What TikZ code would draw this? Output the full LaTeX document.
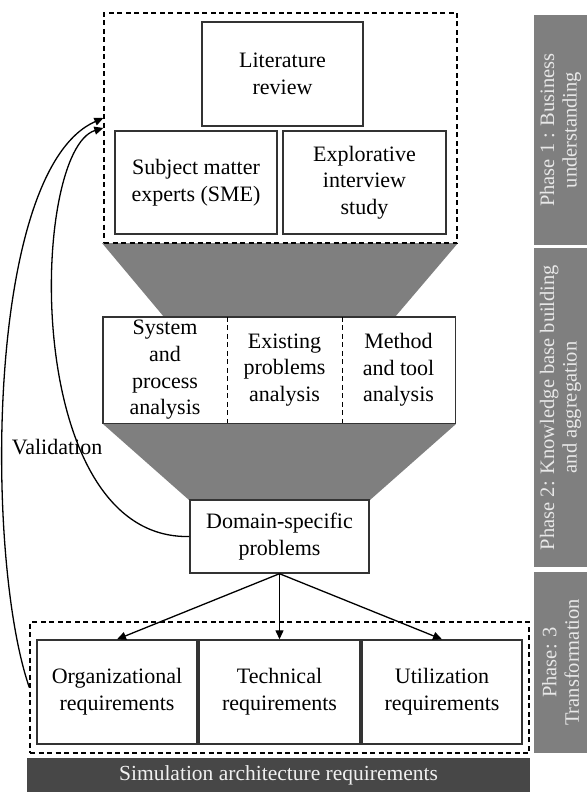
\documentclass[tikz,border=0pt]{standalone}
\usepackage{fontspec}
\setmainfont{Liberation Serif}
\usetikzlibrary{arrows.meta}
\definecolor{FunnelGray}{HTML}{7F7F7F}
\definecolor{PhaseGray}{HTML}{7F7F7F}
\definecolor{BarDark}{HTML}{474747}
\definecolor{PhaseText}{HTML}{E8E8E8}
\definecolor{BoxLine}{HTML}{333333}

\begin{document}
\begin{tikzpicture}[
	x=1pt, y=-1pt, % pixel-like units, y runs downwards
	% Style for the white text boxes
	box/.style={
		draw=BoxLine, 
		line width=1.4pt, 
		fill=white, 
		align=center, 
		inner sep=0pt, 
		font=\fontsize{22}{26.7}\selectfont
	},
	% Style for the cells of the analysis row (frame drawn separately)
	cell/.style={
		fill=white, 
		align=center, 
		inner sep=0pt, 
		minimum height=106pt, 
		font=\fontsize{22}{26.7}\selectfont
	},
	% Style for the dashed group frames
	group/.style={
		draw=black, 
		line width=1.3pt, 
		dash pattern=on 5pt off 3.5pt, 
		inner sep=0pt
	},
	% Style for the phase bars on the right
	phase/.style={
		fill=PhaseGray, 
		text=PhaseText, 
		align=center, 
		inner sep=0pt, 
		minimum height=53pt, 
		rotate=90, 
		font=\fontsize{20.5}{22.5}\selectfont
	},
	% Style for the gray funnels
	funnel/.style={
		fill=FunnelGray
	},
	% Style for the arrows
	arrow/.style={
		-{Triangle[length=9pt,width=8pt]}, 
		line width=1.3pt
	}
	]
	\useasboundingbox (0,0) rectangle (587,792);
	
	% ================= FUNNELS =================
	\fill[funnel] (102,243) -- (458,243) -- (395,317) -- (164,317) -- cycle;
	\fill[funnel] (103,424) -- (456,424) -- (370,500) -- (189,500) -- cycle;
	
	% ================= PHASE 1 =================
	\node[group, minimum width=353pt, minimum height=230pt] (top) at (280.5,128) {};
	\node[box, minimum width=161pt, minimum height=104pt] (lit) at (282.5,74) {Literature\\review};
	\node[box, minimum width=162pt, minimum height=103pt] (sme) at (196,182.5) {Subject matter\\experts (SME)};
	\node[box, minimum width=163pt, minimum height=103pt] (expl) at (364.5,182.5) {Explorative\\interview\\study};
	
	% ================= PHASE 2 =================
	\node[cell, minimum width=124pt] (sys) at (165,370) {System\\and\\process\\analysis};
	\node[cell, minimum width=115pt] (exist) at (284.5,370) {Existing\\problems\\analysis};
	\node[cell, minimum width=113pt] (meth) at (398.5,370) {Method\\and tool\\analysis};
	\draw[draw=BoxLine, line width=1.4pt] (sys.north west) rectangle (meth.south east);
	\draw[group] (sys.north east) -- (sys.south east);
	\draw[group] (exist.north east) -- (exist.south east);
	
	\node[box, minimum width=179pt, minimum height=73pt] (dom) at (279.5,536.5) {Domain-specific\\problems};
	
	% ================= PHASE 3 =================
	\node[group, minimum width=499pt, minimum height=131pt] (req) at (279.5,687.5) {};
	\node[box, minimum width=160pt, minimum height=104pt] (org) at (117,692) {Organizational\\requirements};
	\node[box, minimum width=161pt, minimum height=104pt] (tech) at (279.5,692) {Technical\\requirements};
	\node[box, minimum width=160pt, minimum height=104pt] (util) at (442,692) {Utilization\\requirements};
	
	\node[fill=BarDark, text=white!94!black, inner sep=0pt, minimum width=503pt, minimum height=34pt, font=\fontsize{21.5}{26.7}\selectfont] (sar) at (278.5,775) {Simulation architecture requirements};
	
	% ================= PHASE BARS =================
	\node[phase, minimum width=230pt] (p1) at (560.5,130) {Phase 1 : Business\\understanding};
	\node[phase, minimum width=319pt] (p2) at (560.5,407.5) {Phase 2: Knowledge base building\\and aggregation};
	\node[phase, minimum width=181pt] (p3) at (560.5,662.5) {Phase: 3\\Transformation};
	
	% ================= EDGES =================
	\draw[arrow] (dom.south) -- (org.north);
	\draw[arrow] (dom.south) -- (tech.north);
	\draw[arrow] (dom.south) -- (util.north);
	
	% validation loops back to phase 1
	\draw[arrow] (req.west) .. controls (-15,560) and (-15,170) .. ([yshift=10pt]top.west);
	\draw[arrow] (dom.west) .. controls (20,540) and (30,150) .. (top.west);
	\node[font=\fontsize{22}{26.7}\selectfont] (val) at (57,447) {Validation};
	
\end{tikzpicture}
\end{document}
